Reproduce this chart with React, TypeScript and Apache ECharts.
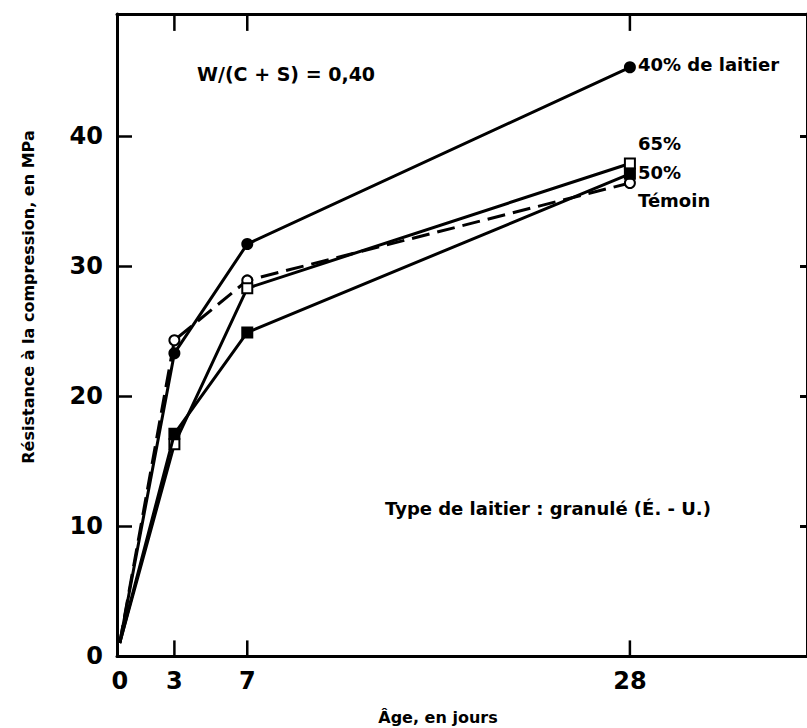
import React, { useEffect, useRef } from "react";
import * as echarts from "echarts";

const ages = [0, 3, 7, 28];
const laitier40 = [1, 23.3, 31.7, 45.3];
const laitier65 = [1, 16.3, 28.3, 37.9];
const laitier50 = [1, 17.1, 24.9, 37.1];
const temoin = [1, 24.3, 28.9, 36.4];
const xTickLabels = [0, 3, 7, 28];
const xTicks = [3, 7, 28];
const yTickLabels = [0, 10, 20, 30, 40];
const yTicks = [10, 20, 30, 40];

const FONT = "'DejaVu Sans', sans-serif";
const X_MIN = -0.15;
const X_MAX = 37.72;
const Y_MAX = 49.4;
const TICK_LEN = 1.2; // in MPa units

function mk(values: number[], symbol: string, fill: boolean, dashed: boolean, name: string) {
  return {
    type: "line",
    name,
    xAxisIndex: 0,
    yAxisIndex: 0,
    data: values.map((v, i) =>
      i === 0 ? { value: [ages[i], v], symbol: "none" } : { value: [ages[i], v] }
    ),
    symbol,
    symbolSize: 10,
    showAllSymbol: true,
    lineStyle: { color: "#000", width: 3, type: dashed ? [18, 8] : "solid" },
    itemStyle: { color: fill ? "#000" : "#fff", borderColor: "#000", borderWidth: 2 },
    z: fill ? 4 : 3,
  };
}

export default function App() {
  const ref = useRef<HTMLDivElement>(null);
  useEffect(() => {
    document.body.style.margin = "0";
    const chart = echarts.init(ref.current!, null, { renderer: "svg" });
    const txt = (x: number, y: number, text: string, size: number, align = "left") => ({
      type: "text",
      x,
      y,
      style: {
        text,
        fill: "#000",
        font: `bold ${size}px ${FONT}`,
        textAlign: align,
        textVerticalAlign: "middle",
      },
    });
    const labelStyle = {
      color: "#000",
      fontFamily: FONT,
      fontWeight: "bold",
      fontSize: 24,
    };
    const tickSegs: number[][] = [];
    xTicks.forEach((t) => {
      tickSegs.push([t, Y_MAX, Y_MAX - TICK_LEN - 0.1]);
      tickSegs.push([t, 0, TICK_LEN]);
    });
    chart.setOption({
      animation: false,
      backgroundColor: "#fff",
      grid: { left: 117, top: 14, right: 0, bottom: 72, containLabel: false },
      xAxis: [
        {
          type: "value",
          position: "bottom",
          min: X_MIN,
          max: X_MAX,
          splitLine: { show: false },
          axisLine: { onZero: false, lineStyle: { color: "#000", width: 3 } },
          axisTick: { show: false },
          axisLabel: { ...labelStyle, customValues: xTickLabels, margin: 13 },
        },
        {
          type: "value",
          position: "top",
          min: X_MIN,
          max: X_MAX,
          splitLine: { show: false },
          axisLine: { show: true, onZero: false, lineStyle: { color: "#000", width: 3 } },
          axisTick: { show: false },
          axisLabel: { show: false },
        },
      ],
      yAxis: [
        {
          type: "value",
          position: "left",
          min: 0,
          max: Y_MAX,
          splitLine: { show: false },
          axisLine: { show: true, onZero: false, lineStyle: { color: "#000", width: 3 } },
          axisTick: { inside: true, length: 15, customValues: yTicks, lineStyle: { color: "#000", width: 2.5 } },
          axisLabel: { ...labelStyle, customValues: yTickLabels, margin: 14 },
        },
        {
          type: "value",
          position: "right",
          min: 0,
          max: Y_MAX,
          splitLine: { show: false },
          axisLine: { show: true, onZero: false, lineStyle: { color: "#000", width: 3 } },
          axisTick: { inside: true, length: 7, customValues: yTicks, lineStyle: { color: "#000", width: 3 } },
          axisLabel: { show: false },
        },
      ],
      series: [
        {
          type: "custom",
          name: "xticks",
          xAxisIndex: 0,
          yAxisIndex: 0,
          silent: true,
          clip: false,
          encode: { x: 0, y: [1, 2] },
          data: tickSegs,
          renderItem: (params: any, api: any) => {
            const a = api.coord([api.value(0), api.value(1)]);
            const b = api.coord([api.value(0), api.value(2)]);
            return {
              type: "line",
              shape: { x1: a[0], y1: a[1], x2: b[0], y2: b[1] },
              style: { stroke: "#000", lineWidth: 2.5 },
            };
          },
          z: 1,
        },
        mk(temoin, "circle", false, true, "Témoin"),
        mk(laitier65, "rect", false, false, "65%"),
        mk(laitier50, "rect", true, false, "50%"),
        mk(laitier40, "circle", true, false, "40% de laitier"),
      ],
      graphic: [
        txt(197, 74, "W/(C + S) = 0,40", 19),
        txt(638, 64, "40% de laitier", 18),
        txt(638, 143, "65%", 18),
        txt(638, 172, "50%", 18),
        txt(638, 200, "Témoin", 18),
        txt(385, 508, "Type de laitier : granulé (É. - U.)", 18),
        txt(438, 717, "Âge, en jours", 16, "center"),
        {
          type: "text",
          x: 28,
          y: 297,
          rotation: Math.PI / 2,
          style: {
            text: "Résistance à la compression, en MPa",
            fill: "#000",
            font: `bold 16px ${FONT}`,
            textAlign: "center",
            textVerticalAlign: "middle",
          },
        },
      ],
    });
    return () => chart.dispose();
  }, []);
  return <div ref={ref} style={{ width: 807, height: 728 }} />;
}
